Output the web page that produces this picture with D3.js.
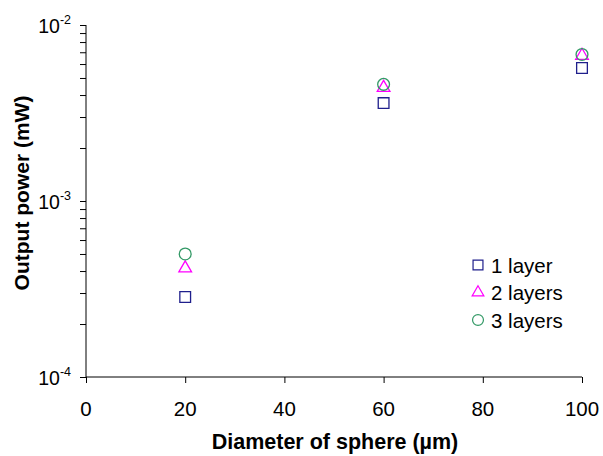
<!DOCTYPE html>
<html>
<head>
<meta charset="utf-8">
<script src="https://cdn.jsdelivr.net/npm/d3@7"></script>
<style>
body { margin: 0; background: #fff; }
svg { font-family: "Liberation Sans", Arial, sans-serif; }
</style>
</head>
<body>
<svg id="chart" width="603" height="456"></svg>
<script>
var diameters = [20, 60, 100];
var layer1 = [2.85e-4, 3.6e-3, 5.7e-3];
var layer2 = [4.15e-4, 4.4e-3, 6.7e-3];
var layer3 = [5.0e-4, 4.6e-3, 6.8e-3];
var seriesNames = ["1 layer", "2 layers", "3 layers"];
var xTicks = [0, 20, 40, 60, 80, 100];
var yExps = [-2, -3, -4];

var svg = d3.select("#chart");

var x = d3.scaleLinear()
    .domain([0, 100])
    .range([86, 582]);

var y = d3.scaleLog()
    .domain([1e-4, 1e-2])
    .range([377, 25]);

// x axis
var xAx = d3.axisBottom(x)
    .tickValues(xTicks)
    .tickSize(6)
    .tickFormat("");
var gx = svg.append("g")
    .attr("transform", "translate(0,377)")
    .call(xAx);
gx.select(".domain").attr("d", "M86,0H582");
gx.selectAll("line").attr("stroke", "#000");

svg.selectAll(".xlab")
    .data(xTicks)
    .enter()
    .append("text")
    .attr("class", "xlab")
    .attr("x", d => x(d))
    .attr("y", 416)
    .attr("text-anchor", "middle")
    .style("font-size", "20.5px")
    .text(d => d);

// y axis with minor ticks
var minor = [];
for (var e = -4; e < -2; e++) {
    for (var m = 1; m <= 9; m++) minor.push(m * Math.pow(10, e));
}
minor.push(1e-2);
var yAx = d3.axisLeft(y)
    .tickValues(minor)
    .tickSize(6)
    .tickFormat("");
var gy = svg.append("g")
    .attr("transform", "translate(86,0)")
    .call(yAx);
gy.select(".domain").attr("d", "M0,25V377");
gy.selectAll("line").attr("stroke", "#000");

var ylab = svg.selectAll(".ylab")
    .data(yExps)
    .enter()
    .append("text")
    .attr("class", "ylab")
    .attr("x", 71)
    .attr("y", d => y(Math.pow(10, d)) + 8)
    .attr("text-anchor", "end")
    .style("font-size", "19.5px");
ylab.append("tspan").text("10");
ylab.append("tspan")
    .attr("dy", -9)
    .style("font-size", "12.5px")
    .text(d => d);

// axis titles
svg.append("text")
    .attr("x", 335)
    .attr("y", 449)
    .attr("text-anchor", "middle")
    .style("font-size", "21.5px")
    .style("font-weight", "bold")
    .text("Diameter of sphere (µm)");

svg.append("text")
    .attr("transform", "translate(29,193) rotate(-90)")
    .attr("text-anchor", "middle")
    .style("font-size", "21px")
    .style("font-weight", "bold")
    .text("Output power (mW)");

// markers
var colors = ["#1f1f8c", "#ff00ff", "#339966"];
var symbols = [d3.symbolSquare, d3.symbolTriangle, d3.symbolCircle];
var sizes = [115, 70, 110];
var allSeries = [layer1, layer2, layer3];

allSeries.forEach(function(vals, k) {
    var sym = d3.symbol().type(symbols[k]).size(sizes[k]);
    svg.selectAll(".s" + k)
        .data(vals)
        .enter()
        .append("path")
        .attr("class", "s" + k)
        .attr("d", sym)
        .attr("transform", (d, i) => "translate(" + x(diameters[i]) + "," + y(d) + ")")
        .attr("fill", "none")
        .attr("stroke", colors[k])
        .attr("stroke-width", 1.3);
});

// legend
var leg = svg.selectAll(".leg")
    .data(seriesNames)
    .enter()
    .append("g")
    .attr("class", "leg")
    .attr("transform", (d, i) => "translate(478," + (265 + i * 27.5) + ")");
leg.append("path")
    .attr("d", (d, i) => d3.symbol().type(symbols[i]).size(sizes[i] * 0.85)())
    .attr("fill", "none")
    .attr("stroke", (d, i) => colors[i])
    .attr("stroke-width", 1.2);
leg.append("text")
    .attr("x", 13)
    .attr("y", 7.5)
    .style("font-size", "20.5px")
    .text(d => d);
</script>
</body>
</html>
